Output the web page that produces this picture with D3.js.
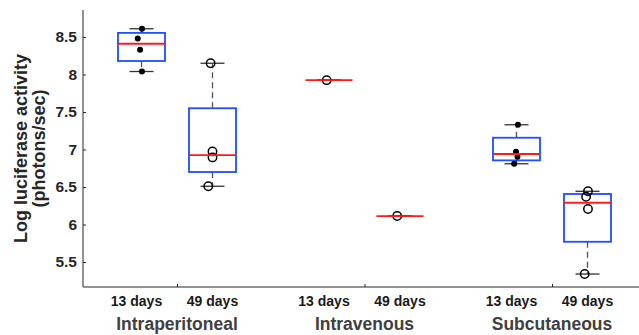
<!DOCTYPE html>
<html>
<head>
<meta charset="utf-8">
<script src="https://cdn.jsdelivr.net/npm/d3@7"></script>
<style>
  body { margin: 0; background: #fff; }
  svg { display: block; font-family: "Liberation Sans", Arial, Helvetica, sans-serif; }
</style>
</head>
<body>
<div id="chart"></div>
<script>
// groups and the two time points inside each
var groups = ["Intraperitoneal", "Intravenous", "Subcutaneous"]
var times = ["13 days", "49 days"]

// box stats per box, in order IP13, IP49, IV13, IV49, SC13, SC49
var q1 = [8.18, 6.70, 7.925, 6.113, 6.855, 5.77]
var medians = [8.41, 6.925, 7.925, 6.113, 6.94, 6.29]
var q3 = [8.555, 7.55, 7.925, 6.113, 7.157, 6.407]
var whiskerLow = [8.04, 6.51, 7.925, 6.113, 6.81, 5.34]
var whiskerHigh = [8.61, 8.15, 7.925, 6.113, 7.33, 6.443]

// raw observations per box, with a small horizontal jitter (fraction of box width)
var points = [
  [8.61, 8.48, 8.33, 8.04],
  [8.15, 6.975, 6.895, 6.51],
  [7.925],
  [6.113],
  [7.33, 6.97, 6.905, 6.81],
  [6.443, 6.37, 6.207, 5.34]
]
var jitter = [
  [0.01, -0.08, -0.03, 0.01],
  [-0.04, 0.0, 0.0, -0.09],
  [-0.05],
  [-0.06],
  [0.03, -0.01, 0.02, -0.05],
  [0.01, -0.03, 0.01, -0.06]
]

var yTicks = [5.5, 6, 6.5, 7, 7.5, 8, 8.5]

// marker style per box (filled dot vs open circle)
var filledMarker = [true, false, false, false, true, false]

var width = 639, height = 335
var margin = { top: 10, right: 0, bottom: 48, left: 83 }
var innerW = width - margin.left - margin.right
var innerH = height - margin.top - margin.bottom

var svg = d3.select("#chart")
  .append("svg")
    .attr("width", width)
    .attr("height", height)

var g = svg.append("g")
  .attr("transform", "translate(" + margin.left + "," + margin.top + ")")

// group centre scale, box offset inside each group
var gx = d3.scaleLinear()
  .domain([0, groups.length - 1])
  .range([177 - margin.left, 552 - margin.left])
var subOffset = 35.5
var boxW = 47
var capW = 24

var y = d3.scaleLinear()
  .domain([5.167, 8.86])
  .range([innerH, 0])

var boxes = d3.range(groups.length * times.length).map(function(i) {
  var gi = Math.floor(i / times.length), ti = i % times.length
  return {
    i: i, gi: gi, ti: ti,
    cx: gx(gi) + (ti === 0 ? -subOffset : subOffset),
    q1: q1[i], med: medians[i], q3: q3[i],
    lo: whiskerLow[i], hi: whiskerHigh[i],
    pts: points[i].map(function(v, k) { return { v: v, j: jitter[i][k] } })
  }
})

// Y axis
var yAxis = g.append("g")
  .call(d3.axisLeft(y).tickValues(yTicks).tickSize(-3).tickPadding(6)
    .tickFormat(function(d) { return d3.format("")(d) }))
yAxis.select(".domain").attr("d", "M0,0V" + innerH).attr("stroke", "#262626")
yAxis.selectAll(".tick line").attr("stroke", "#262626")
yAxis.selectAll(".tick text")
  .attr("fill", "#262626")
  .style("font-size", "15.5px")
  .style("font-weight", "bold")

// X axis: ticks at group centres, labels drawn separately
var xAxis = g.append("g")
  .attr("transform", "translate(0," + innerH + ")")
  .call(d3.axisBottom(gx).tickValues(d3.range(groups.length)).tickSize(-3).tickFormat(""))
xAxis.select(".domain").attr("d", "M0,0H" + innerW).attr("stroke", "#262626")
xAxis.selectAll(".tick line").attr("stroke", "#262626")

// time labels under each box
g.append("g")
  .selectAll("text")
  .data(boxes)
  .enter()
  .append("text")
    .attr("x", function(d) { return d.cx + (d.ti === 0 ? -5 : 0) })
    .attr("y", innerH + 19)
    .attr("text-anchor", "middle")
    .style("font-size", "14px")
    .style("font-weight", "bold")
    .attr("fill", "#1a1a1a")
    .text(function(d) { return times[d.ti] })

// group labels
g.append("g")
  .selectAll("text")
  .data(groups)
  .enter()
  .append("text")
    .attr("x", function(d, i) { return gx(i) })
    .attr("y", innerH + 43)
    .attr("text-anchor", "middle")
    .style("font-size", "17.5px")
    .style("font-weight", "bold")
    .attr("fill", "#404040")
    .text(function(d) { return d })

// Y title
var yTitle = svg.append("text")
  .attr("transform", "translate(27," + (margin.top + innerH / 2) + ") rotate(-90)")
  .attr("text-anchor", "middle")
  .style("font-size", "18px")
  .style("font-weight", "bold")
  .attr("fill", "#262626")
yTitle.append("tspan").attr("x", 0).attr("dy", 0).text("Log luciferase activity")
yTitle.append("tspan").attr("x", 0).attr("dy", 18).text("(photons/sec)")

// boxes
var box = g.append("g")
  .selectAll("g")
  .data(boxes)
  .enter()
  .append("g")

// whiskers (dashed)
box.append("line")
  .attr("x1", function(d) { return d.cx }).attr("x2", function(d) { return d.cx })
  .attr("y1", function(d) { return y(d.q3) }).attr("y2", function(d) { return y(d.hi) })
  .attr("stroke", "#555").attr("stroke-width", 1.3).attr("stroke-dasharray", "6,4")
box.append("line")
  .attr("x1", function(d) { return d.cx }).attr("x2", function(d) { return d.cx })
  .attr("y1", function(d) { return y(d.q1) }).attr("y2", function(d) { return y(d.lo) })
  .attr("stroke", "#555").attr("stroke-width", 1.3).attr("stroke-dasharray", "6,4")

// caps
;["hi", "lo"].forEach(function(k) {
  box.append("line")
    .attr("x1", function(d) { return d.cx - capW / 2 }).attr("x2", function(d) { return d.cx + capW / 2 })
    .attr("y1", function(d) { return y(d[k]) }).attr("y2", function(d) { return y(d[k]) })
    .attr("stroke", "#333").attr("stroke-width", 1.3)
})

// box rectangles
box.append("rect")
  .attr("x", function(d) { return d.cx - boxW / 2 })
  .attr("width", boxW)
  .attr("y", function(d) { return y(d.q3) })
  .attr("height", function(d) { return y(d.q1) - y(d.q3) })
  .attr("fill", "none")
  .attr("stroke", "#1f4dff")
  .attr("stroke-width", 1.8)

// points
box.each(function(d) {
  var sel = d3.select(this).selectAll("circle")
    .data(d.pts)
    .enter()
    .append("circle")
      .attr("cx", function(p) { return d.cx + p.j * boxW })
      .attr("cy", function(p) { return y(p.v) })
  if (filledMarker[d.i]) {
    sel.attr("r", 3).attr("fill", "#000").attr("stroke", "none")
  } else {
    sel.attr("r", 4.2).attr("fill", "none").attr("stroke", "#000").attr("stroke-width", 1.5)
  }
})

// medians
box.append("line")
  .attr("x1", function(d) { return d.cx - boxW / 2 }).attr("x2", function(d) { return d.cx + boxW / 2 })
  .attr("y1", function(d) { return y(d.med) }).attr("y2", function(d) { return y(d.med) })
  .attr("stroke", "#ff1a1a").attr("stroke-width", 1.8)
</script>
</body>
</html>
